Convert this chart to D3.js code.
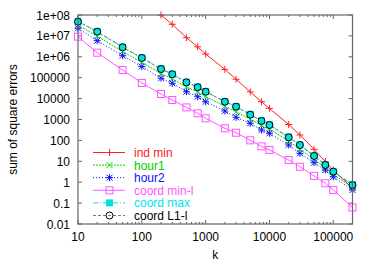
<!DOCTYPE html>
<html>
<head>
<meta charset="utf-8">
<script src="https://cdn.jsdelivr.net/npm/d3@7"></script>
<style>
  body { margin: 0; background: #fff; }
  svg { display: block; font-family: "Liberation Sans", Arial, sans-serif; }
</style>
</head>
<body>
<div id="chart"></div>
<script>
// k values shared by all series
var ks = [10, 20, 50, 100, 200, 300, 500, 750, 1000, 2000, 3000, 5000, 7500,
          10000, 20000, 30000, 50000, 75000, 100000, 200000];

// ind min starts at k = 200 (earlier points are off the top)
var indMinK = [200, 300, 500, 750, 1000, 2000, 3000, 5000, 7500, 10000,
               20000, 30000, 50000, 75000, 100000, 200000];
var indMin = [1.0e8, 3.6e7, 8.2e6, 3.0e6, 1.36e6, 2.5e5, 8.4e4, 2.1e4, 7.1e3, 3.4e3,
              577, 181, 37.5, 9.6, 3.8, 0.51];

var hour1 = [3.3e7, 9.7e6, 1.8e6, 5.4e5, 1.55e5, 8.9e4, 3.6e4, 2.1e4, 1.23e4, 4.3e3,
             2.3e3, 1.05e3, 515, 347, 92, 38, 12.3, 5.0, 2.4, 0.56];
var hour2 = [2.3e7, 5.9e6, 1.13e6, 3.4e5, 9.4e4, 5.4e4, 2.14e4, 1.23e4, 7.1e3, 2.55e3,
             1.27e3, 658, 315, 219, 60, 24, 8.6, 3.8, 1.8, 0.42];
var coordMinL = [9.2e6, 1.57e6, 2.33e5, 5.6e4, 1.66e4, 8.6e3, 3.8e3, 1.98e3, 1.14e3, 379,
                 233, 101, 52, 35, 11.5, 5.5, 2.0, 0.89, 0.42, 0.062];
var coordMax = [5.0e7, 1.65e7, 2.95e6, 9.1e5, 2.7e5, 1.5e5, 6.2e4, 3.6e4, 2.2e4, 7.3e3,
                4.2e3, 1.75e3, 870, 560, 145, 62, 18.5, 6.9, 3.3, 0.76];
var coordL1 = [4.78e7, 1.59e7, 2.85e6, 8.8e5, 2.6e5, 1.46e5, 6.0e4, 3.5e4, 2.14e4, 7.1e3,
               4.1e3, 1.7e3, 847, 546, 141, 60, 18, 6.7, 3.2, 0.73];

var yTickLabels = ["0.01", "0.1", "1", "10", "100", "1000", "10000", "100000",
                   "1e+06", "1e+07", "1e+08"];
var xTickLabels = ["10", "100", "1000", "10000", "100000"];

var W = 374, H = 262;
var pLeft = 78, pRight = 352.5, pTop = 15, pBottom = 224;

var x = d3.scaleLog().domain([10, 200000]).range([pLeft, pRight]);
var y = d3.scaleLog().domain([0.01, 1e8]).range([pBottom, pTop]);

var svg = d3.select('#chart').append('svg')
  .attr('width', W).attr('height', H);

var series = [
  { name: 'ind min', k: indMinK, v: indMin, color: '#ff2020', dash: null, marker: 'plus' },
  { name: 'hour1', k: ks, v: hour1, color: '#00dd00', dash: '2,1', marker: 'cross', text: '#00cc00' },
  { name: 'hour2', k: ks, v: hour2, color: '#1010ff', dash: '1,2', marker: 'star' },
  { name: 'coord min-l', k: ks, v: coordMinL, color: '#ff55ff', dash: null, marker: 'box' },
  { name: 'coord max', k: ks, v: coordMax, color: '#00e0e0', dash: '5,2,1,2', marker: 'fbox', text: '#00e6e6' },
  { name: 'coord L1-l', k: ks, v: coordL1, color: '#777', dash: '3,2', marker: 'circle', text: '#000', mcolor: '#000' }
];

// clip area
svg.append('clipPath').attr('id', 'clip').append('rect')
  .attr('x', pLeft).attr('y', pTop).attr('width', pRight - pLeft).attr('height', pBottom - pTop);

function isDecade(d) {
  return Math.abs(Math.log10(d) - Math.round(Math.log10(d))) < 1e-6;
}

// ticks (inward, mirrored)
var g = svg.append('g').attr('stroke', '#666').attr('stroke-width', 1);
y.ticks().filter(isDecade).forEach(function(d) {
  g.append('line').attr('x1', pLeft).attr('x2', pLeft + 4).attr('y1', y(d)).attr('y2', y(d));
  g.append('line').attr('x1', pRight).attr('x2', pRight - 4).attr('y1', y(d)).attr('y2', y(d));
});
x.ticks().forEach(function(d) {
  var len = isDecade(d) ? 4 : 2;
  g.append('line').attr('x1', x(d)).attr('x2', x(d)).attr('y1', pBottom).attr('y2', pBottom - len);
  g.append('line').attr('x1', x(d)).attr('x2', x(d)).attr('y1', pTop).attr('y2', pTop + len);
});

// tick labels
yTickLabels.forEach(function(t) {
  svg.append('text').attr('x', pLeft - 8).attr('y', y(+t) + 4.5)
    .attr('text-anchor', 'end').attr('font-size', 12).text(t);
});
xTickLabels.forEach(function(t) {
  svg.append('text').attr('x', x(+t)).attr('y', pBottom + 16.5)
    .attr('text-anchor', 'middle').attr('font-size', 12).text(t);
});

svg.append('text').attr('x', (pLeft + pRight) / 2).attr('y', 259)
  .attr('text-anchor', 'middle').attr('font-size', 12).text('k');
svg.append('text')
  .attr('transform', 'translate(17,' + ((pTop + pBottom) / 2) + ') rotate(-90)')
  .attr('text-anchor', 'middle').attr('font-size', 12).text('sum of square errors');

function drawMarker(sel, type, color, px, py) {
  var s = 3.5;
  if (type === 'plus' || type === 'star') {
    sel.append('path').attr('d', 'M' + (px - s) + ',' + py + 'H' + (px + s) + 'M' + px + ',' + (py - s) + 'V' + (py + s))
      .attr('stroke', color).attr('fill', 'none');
  }
  if (type === 'cross' || type === 'star') {
    var c = 3;
    sel.append('path').attr('d', 'M' + (px - c) + ',' + (py - c) + 'L' + (px + c) + ',' + (py + c) +
        'M' + (px - c) + ',' + (py + c) + 'L' + (px + c) + ',' + (py - c))
      .attr('stroke', color).attr('fill', 'none');
  }
  if (type === 'box') {
    sel.append('rect').attr('x', px - 3.5).attr('y', py - 3.5).attr('width', 7).attr('height', 7)
      .attr('stroke', color).attr('fill', 'none');
  }
  if (type === 'fbox') {
    sel.append('rect').attr('x', px - 3.5).attr('y', py - 3.5).attr('width', 7).attr('height', 7)
      .attr('fill', color);
  }
  if (type === 'circle') {
    sel.append('circle').attr('cx', px).attr('cy', py).attr('r', 3.5)
      .attr('stroke', color).attr('fill', 'none');
  }
}

var line = d3.line().x(function(d) { return x(d[0]); }).y(function(d) { return y(d[1]); });

var plot = svg.append('g').attr('clip-path', 'url(#clip)');
var legY0 = 152.5, legStep = 12.6;

series.forEach(function(s, i) {
  var pts = s.k.map(function(k, j) { return [k, s.v[j]]; });
  plot.append('path').datum(pts).attr('d', line)
    .attr('fill', 'none').attr('stroke', s.color).attr('stroke-width', 1)
    .attr('stroke-dasharray', s.dash);
  var gm = svg.append('g');
  pts.forEach(function(p) {
    drawMarker(gm, s.marker, s.mcolor || s.color, x(p[0]), y(p[1]));
  });

  // legend entry
  var ly = legY0 + i * legStep;
  svg.append('line').attr('x1', 93).attr('x2', 125).attr('y1', ly).attr('y2', ly)
    .attr('stroke', s.color).attr('stroke-dasharray', s.dash);
  drawMarker(svg.append('g'), s.marker, s.mcolor || s.color, 109.5, ly);
  svg.append('text').attr('x', 134).attr('y', ly + 4.5).attr('font-size', 12)
    .attr('fill', s.text || s.color).text(s.name);
});

// border
svg.append('rect').attr('x', pLeft).attr('y', pTop).attr('width', pRight - pLeft).attr('height', pBottom - pTop)
  .attr('fill', 'none').attr('stroke', '#666').attr('stroke-width', 1.2);
</script>
</body>
</html>
